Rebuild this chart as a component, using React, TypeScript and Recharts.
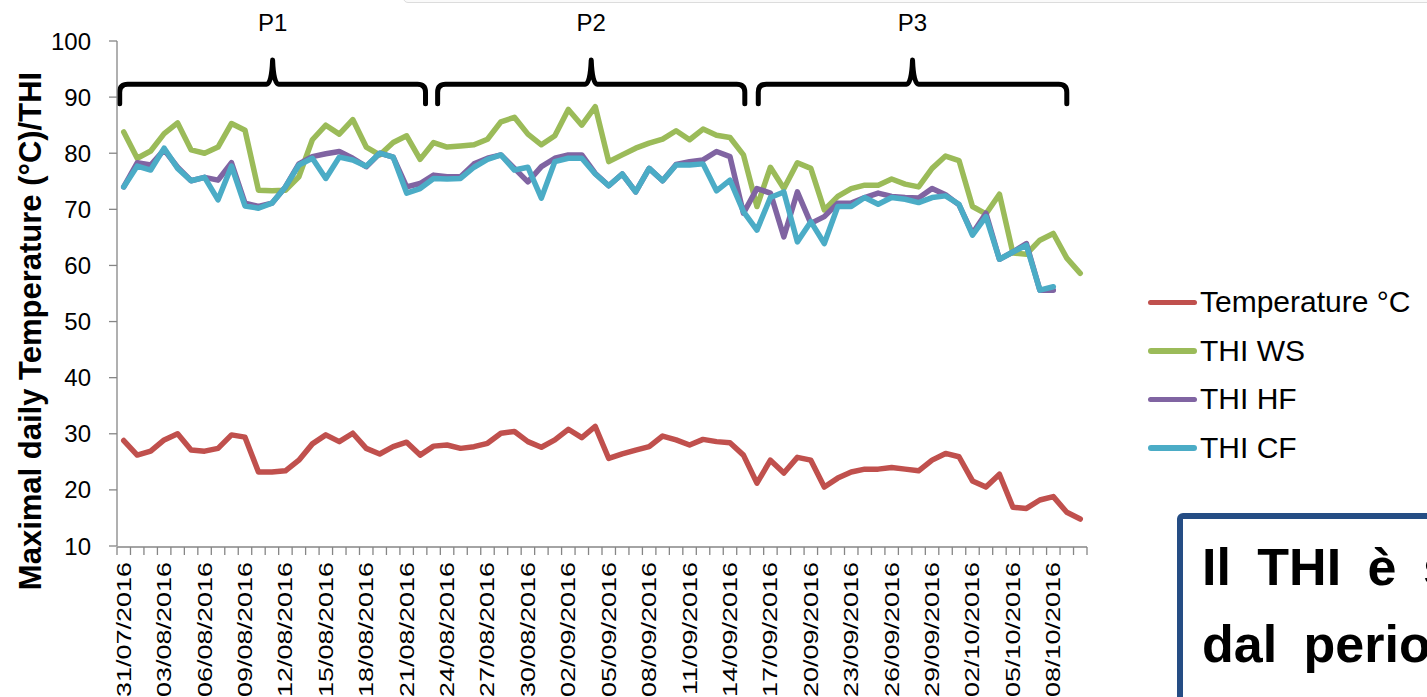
import React from 'react';
import { LineChart, Line, XAxis, YAxis, Legend, ReferenceArea } from 'recharts';

const DATES = [
  '31/07/2016',
  '01/08/2016', '02/08/2016', '03/08/2016', '04/08/2016', '05/08/2016', '06/08/2016', '07/08/2016', '08/08/2016', '09/08/2016', '10/08/2016',
  '11/08/2016', '12/08/2016', '13/08/2016', '14/08/2016', '15/08/2016', '16/08/2016', '17/08/2016', '18/08/2016', '19/08/2016', '20/08/2016',
  '21/08/2016', '22/08/2016', '23/08/2016', '24/08/2016', '25/08/2016', '26/08/2016', '27/08/2016', '28/08/2016', '29/08/2016', '30/08/2016', '31/08/2016',
  '01/09/2016', '02/09/2016', '03/09/2016', '04/09/2016', '05/09/2016', '06/09/2016', '07/09/2016', '08/09/2016', '09/09/2016', '10/09/2016',
  '11/09/2016', '12/09/2016', '13/09/2016', '14/09/2016', '15/09/2016', '16/09/2016', '17/09/2016', '18/09/2016', '19/09/2016', '20/09/2016',
  '21/09/2016', '22/09/2016', '23/09/2016', '24/09/2016', '25/09/2016', '26/09/2016', '27/09/2016', '28/09/2016', '29/09/2016', '30/09/2016',
  '01/10/2016', '02/10/2016', '03/10/2016', '04/10/2016', '05/10/2016', '06/10/2016', '07/10/2016', '08/10/2016', '09/10/2016', '10/10/2016',
];

const TICK_LABELS = [
  '31/07/2016', '03/08/2016', '06/08/2016', '09/08/2016', '12/08/2016', '15/08/2016', '18/08/2016', '21/08/2016',
  '24/08/2016', '27/08/2016', '30/08/2016', '02/09/2016', '05/09/2016', '08/09/2016', '11/09/2016', '14/09/2016',
  '17/09/2016', '20/09/2016', '23/09/2016', '26/09/2016', '29/09/2016', '02/10/2016', '05/10/2016', '08/10/2016',
];

const TEMP = [
  28.8, 26.2, 26.9, 28.9, 30.0, 27.1, 26.9, 27.4, 29.8, 29.4,
  23.2, 23.2, 23.4, 25.3, 28.2, 29.8, 28.6, 30.1, 27.4, 26.4,
  27.7, 28.5, 26.2, 27.8, 28.0, 27.4, 27.7, 28.3, 30.1, 30.4,
  28.6, 27.6, 28.9, 30.8, 29.3, 31.3, 25.6, 26.4, 27.1, 27.7,
  29.6, 28.9, 28.0, 29.0, 28.6, 28.4, 26.2, 21.2, 25.3, 23.0,
  25.8, 25.3, 20.5, 22.1, 23.2, 23.7, 23.7, 24.0, 23.7, 23.4,
  25.3, 26.5, 25.9, 21.6, 20.5, 22.8, 16.9, 16.7, 18.2, 18.8,
  16.0, 14.8,
];

const THI_WS = [
  83.8, 79.1, 80.4, 83.5, 85.4, 80.6, 80.0, 81.1, 85.3, 84.1,
  73.4, 73.3, 73.4, 75.8, 82.4, 85.0, 83.4, 86.0, 81.1, 79.7,
  81.9, 83.1, 78.9, 81.9, 81.1, 81.3, 81.5, 82.5, 85.6, 86.4,
  83.4, 81.5, 83.1, 87.8, 85.0, 88.3, 78.5, 79.7, 80.9, 81.8,
  82.5, 84.0, 82.4, 84.3, 83.2, 82.8, 79.7, 70.5, 77.5, 73.7,
  78.3, 77.3, 69.9, 72.3, 73.7, 74.3, 74.3, 75.4, 74.5, 74.0,
  77.3, 79.5, 78.7, 70.5, 69.2, 72.7, 62.2, 62.0, 64.5, 65.7,
  61.3, 58.6,
];

const THI_HF = [
  74.0, 78.3, 77.9, 80.6, 77.5, 75.1, 75.7, 75.2, 78.3, 71.1,
  70.5, 71.1, 74.0, 78.1, 79.4, 79.9, 80.3, 79.1, 77.6, 80.0,
  79.3, 74.0, 74.6, 76.1, 75.8, 75.8, 78.1, 79.1, 79.7, 77.3,
  74.9, 77.6, 79.1, 79.7, 79.7, 76.4, 74.2, 76.3, 73.1, 77.3,
  75.1, 78.0, 78.5, 78.8, 80.3, 79.4, 69.3, 73.7, 72.9, 65.1,
  73.1, 67.5, 68.7, 71.1, 71.1, 72.1, 72.9, 72.3, 72.1, 72.0,
  73.7, 72.6, 70.8, 65.7, 69.3, 61.1, 62.4, 63.9, 55.6, 55.6,
  null, null,
];

const THI_CF = [
  74.0, 77.7, 77.0, 80.9, 77.3, 75.1, 75.7, 71.7, 77.7, 70.6,
  70.2, 71.1, 74.0, 77.9, 79.1, 75.5, 79.3, 78.8, 77.7, 80.0,
  79.3, 72.9, 73.7, 75.5, 75.4, 75.5, 77.5, 78.9, 79.7, 77.0,
  77.5, 72.0, 78.5, 79.1, 79.1, 76.3, 74.2, 76.3, 73.1, 77.3,
  75.1, 77.9, 77.9, 78.1, 73.3, 75.2, 69.6, 66.3, 72.1, 73.1,
  64.2, 67.8, 63.9, 70.5, 70.5, 72.1, 70.9, 72.1, 71.8, 71.2,
  72.1, 72.4, 70.9, 65.4, 68.7, 61.1, 62.4, 63.6, 55.6, 56.2,
  null, null,
];

const Y_TICKS = [10, 20, 30, 40, 50, 60, 70, 80, 90, 100];

// periods (in category-slot units along the date axis)
const PERIOD_LABELS = ['P1', 'P2', 'P3'];
const PERIOD_START = [0.2, 23.8, 47.6];
const PERIOD_END = [22.9, 46.6, 70.5];
const BRACE_LOW = 88.8;
const BRACE_HIGH = 96.6;

const SERIES = [
  { key: 'temp', name: 'Temperature °C', color: '#C0504D' },
  { key: 'ws', name: 'THI WS', color: '#9BBB59' },
  { key: 'hf', name: 'THI HF', color: '#8064A2' },
  { key: 'cf', name: 'THI CF', color: '#4BACC6' },
];

const data = DATES.map((d, i) => ({
  date: d,
  slot: i,
  temp: TEMP[i],
  ws: THI_WS[i],
  hf: THI_HF[i],
  cf: THI_CF[i],
}));

const SLOT_COUNT = DATES.length;
const FRAME_TICKS = Array.from({ length: SLOT_COUNT + 1 }, (_, i) => i);

const CHART_W = 1427;
const CHART_H = 700;
const MARGIN = { top: 41, right: 340, bottom: 152, left: 0 };
const Y_AXIS_W = 117;
const PLOT_W = CHART_W - MARGIN.right - MARGIN.left - Y_AXIS_W;
const HALF_SLOT = PLOT_W / SLOT_COUNT / 2;

const FONT = '"Liberation Sans", Arial, sans-serif';

const DateTick = (props: any) => {
  const { x, y, payload } = props;
  return (
    <text
      transform={`translate(${x},${y}) rotate(-90) scale(1,0.72)`}
      textAnchor="end"
      dy="0.36em"
      fontSize={27}
      fill="#000"
      fontFamily={FONT}
    >
      {payload.value}
    </text>
  );
};

const EmptyTick = () => <g />;

const YTitle = () => (
  <text
    transform="translate(41,331) rotate(-90)"
    textAnchor="middle"
    fontSize={31}
    fontWeight="bold"
    fill="#000"
    fontFamily={FONT}
  >
    Maximal daily Temperature (°C)/THI
  </text>
);

const Brace = (props: any) => {
  const { x, y, width, height, label } = props;
  const x0 = x;
  const x1 = x + width;
  const mid = x + width / 2;
  const top = y;
  const bottom = y + height;
  const yl = y + height * 0.55;
  const r = 8;
  const d = `M${x0},${bottom} L${x0},${yl + r} Q${x0},${yl} ${x0 + r},${yl} L${mid - 6},${yl} Q${mid - 1},${yl} ${mid},${top} Q${mid + 1},${yl} ${mid + 6},${yl} L${x1 - r},${yl} Q${x1},${yl} ${x1},${yl + r} L${x1},${bottom}`;
  return (
    <g>
      <path d={d} stroke="#000" strokeWidth={5} fill="none" strokeLinejoin="round" strokeLinecap="round" />
      <text x={mid} y={top - 29} textAnchor="middle" fontSize={24} fill="#000" fontFamily={FONT}>
        {label}
      </text>
    </g>
  );
};

const LegendContent = () => (
  <div style={{ fontFamily: FONT }}>
    {SERIES.map((s) => (
      <div key={s.key} style={{ display: 'flex', alignItems: 'center', height: 48.5 }}>
        <div style={{ width: 49, height: 5.5, borderRadius: 3, background: s.color }} />
        <span style={{ marginLeft: 3, fontSize: 30, lineHeight: '30px', color: '#000', whiteSpace: 'nowrap' }}>
          {s.name}
        </span>
      </div>
    ))}
  </div>
);

export default function App() {
  return (
    <div
      style={{
        position: 'absolute',
        left: 0,
        top: 0,
        width: 1427,
        height: 697,
        overflow: 'hidden',
        background: '#fff',
        fontFamily: FONT,
      }}
    >
      <div
        style={{
          position: 'absolute',
          left: 403,
          top: -8,
          width: 1100,
          height: 9,
          border: '1.5px solid #dcdcdc',
          borderRadius: 5,
          background: '#fafafa',
        }}
      />
      <LineChart width={CHART_W} height={CHART_H} data={data} margin={MARGIN}>
        <XAxis
          xAxisId="frame"
          dataKey="slot"
          type="number"
          domain={[0, SLOT_COUNT]}
          ticks={FRAME_TICKS}
          interval={0}
          height={1}
          tick={EmptyTick}
          tickSize={8}
          tickLine={{ stroke: '#868686', strokeWidth: 1.3 }}
          axisLine={{ stroke: '#868686', strokeWidth: 1.3 }}
          allowDataOverflow
        />
        <XAxis
          xAxisId="cat"
          dataKey="date"
          type="category"
          scale="point"
          padding={{ left: HALF_SLOT, right: HALF_SLOT }}
          ticks={TICK_LABELS}
          interval={0}
          height={1}
          tickSize={0}
          tickMargin={16}
          tickLine={false}
          axisLine={false}
          tick={<DateTick />}
        />
        <YAxis
          width={Y_AXIS_W}
          domain={[10, 100]}
          ticks={Y_TICKS}
          interval={0}
          tickSize={8}
          tickMargin={18}
          tick={{ fontSize: 24, fill: '#000', fontFamily: FONT }}
          tickLine={{ stroke: '#868686', strokeWidth: 1.3 }}
          axisLine={{ stroke: '#868686', strokeWidth: 1.3 }}
          label={<YTitle />}
        />
        {PERIOD_LABELS.map((p, i) => (
          <ReferenceArea
            key={p}
            xAxisId="frame"
            x1={PERIOD_START[i]}
            x2={PERIOD_END[i]}
            y1={BRACE_LOW}
            y2={BRACE_HIGH}
            ifOverflow="visible"
            shape={(sp: any) => <Brace {...sp} label={p} />}
          />
        ))}
        {SERIES.map((s) => (
          <Line
            key={s.key}
            xAxisId="cat"
            type="linear"
            dataKey={s.key}
            name={s.name}
            stroke={s.color}
            strokeWidth={5.5}
            strokeLinejoin="round"
            strokeLinecap="round"
            dot={false}
            activeDot={false}
            isAnimationActive={false}
          />
        ))}
        <Legend
          layout="vertical"
          align="center"
          verticalAlign="middle"
          content={<LegendContent />}
          wrapperStyle={{ position: 'absolute', left: 1148, top: 278, width: 279 }}
        />
      </LineChart>
      <div
        style={{
          position: 'absolute',
          left: 1177,
          top: 513,
          width: 420,
          height: 300,
          border: '6px solid #254D84',
          borderRadius: 6,
          boxSizing: 'border-box',
          paddingTop: 10,
          paddingLeft: 19,
          fontFamily: FONT,
          fontWeight: 'bold',
          fontSize: 52,
          lineHeight: '77px',
          wordSpacing: 12,
          color: '#000',
          whiteSpace: 'nowrap',
          background: '#fff',
        }}
      >
        <div>Il THI è sempre</div>
        <div>dal periodo</div>
      </div>
    </div>
  );
}
